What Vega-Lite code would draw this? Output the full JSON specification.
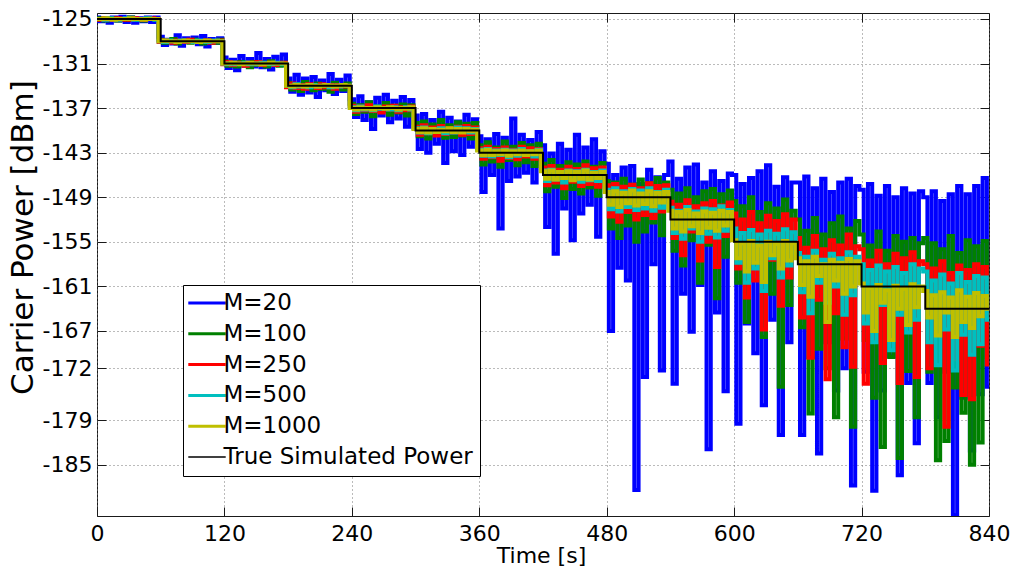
{
"$schema":"https://vega.github.io/schema/vega-lite/v6.json",
"width":892,"height":503,
"autosize":{"type":"none"},
"padding":{"left":97,"top":13,"right":25,"bottom":57},
"background":"white",
"config":{
 "font":"DejaVu Sans",
 "view":{"stroke":"#1a1a1a","strokeWidth":1},
 "axis":{"labelFont":"DejaVu Sans","titleFont":"DejaVu Sans","labelColor":"#000","titleColor":"#000","titleFontWeight":"normal","domain":false,"tickColor":"#1a1a1a","tickSize":-9,"tickWidth":1,"gridColor":"#777","gridDash":[1,3],"gridWidth":1,"gridOpacity":1}
},
"datasets":{
"main":[
{"t":0,"m20":-124.8,"m100":-125.1,"m250":-125.0,"m500":-125.0,"m1000":-125.0},
{"t":4,"m20":-125.3,"m100":-124.9,"m250":-125.1,"m500":-125.0,"m1000":-125.0},
{"t":8,"m20":-124.9,"m100":-125.2,"m250":-124.9,"m500":-125.1,"m1000":-124.9},
{"t":12,"m20":-125.5,"m100":-125.0,"m250":-125.1,"m500":-124.9,"m1000":-125.0},
{"t":16,"m20":-124.8,"m100":-124.9,"m250":-125.0,"m500":-125.0,"m1000":-125.1},
{"t":20,"m20":-125.2,"m100":-125.2,"m250":-124.9,"m500":-125.1,"m1000":-125.0},
{"t":24,"m20":-124.7,"m100":-125.0,"m250":-125.1,"m500":-125.0,"m1000":-125.0},
{"t":28,"m20":-125.4,"m100":-125.1,"m250":-125.0,"m500":-124.9,"m1000":-125.0},
{"t":32,"m20":-124.8,"m100":-124.8,"m250":-125.1,"m500":-125.0,"m1000":-124.9},
{"t":36,"m20":-125.5,"m100":-125.1,"m250":-124.9,"m500":-125.1,"m1000":-125.0},
{"t":40,"m20":-124.9,"m100":-125.0,"m250":-125.0,"m500":-125.0,"m1000":-125.0},
{"t":44,"m20":-125.3,"m100":-125.2,"m250":-125.1,"m500":-125.0,"m1000":-125.1},
{"t":48,"m20":-124.8,"m100":-124.9,"m250":-125.0,"m500":-124.9,"m1000":-125.0},
{"t":52,"m20":-125.4,"m100":-125.0,"m250":-124.9,"m500":-125.0,"m1000":-125.0},
{"t":56,"m20":-124.8,"m100":-125.1,"m250":-125.0,"m500":-125.1,"m1000":-125.0},
{"t":60,"m20":-127.4,"m100":-127.8,"m250":-128.1,"m500":-128.0,"m1000":-128.0},
{"t":64,"m20":-128.5,"m100":-128.2,"m250":-127.9,"m500":-128.1,"m1000":-127.9},
{"t":68,"m20":-127.8,"m100":-128.0,"m250":-128.0,"m500":-127.9,"m1000":-128.0},
{"t":72,"m20":-128.3,"m100":-127.7,"m250":-128.2,"m500":-128.0,"m1000":-128.0},
{"t":76,"m20":-127.2,"m100":-128.3,"m250":-127.9,"m500":-128.1,"m1000":-128.1},
{"t":80,"m20":-128.6,"m100":-128.0,"m250":-128.0,"m500":-127.9,"m1000":-128.0},
{"t":84,"m20":-127.6,"m100":-127.9,"m250":-128.1,"m500":-128.0,"m1000":-127.9},
{"t":88,"m20":-128.1,"m100":-128.2,"m250":-127.8,"m500":-128.0,"m1000":-128.0},
{"t":92,"m20":-127.5,"m100":-127.8,"m250":-128.0,"m500":-128.1,"m1000":-128.0},
{"t":96,"m20":-128.4,"m100":-128.1,"m250":-128.1,"m500":-127.9,"m1000":-128.1},
{"t":100,"m20":-127.3,"m100":-128.3,"m250":-128.0,"m500":-128.0,"m1000":-128.0},
{"t":104,"m20":-128.7,"m100":-127.9,"m250":-127.9,"m500":-128.1,"m1000":-127.9},
{"t":108,"m20":-127.7,"m100":-128.0,"m250":-128.2,"m500":-128.0,"m1000":-128.0},
{"t":112,"m20":-128.2,"m100":-128.2,"m250":-128.0,"m500":-127.9,"m1000":-128.0},
{"t":116,"m20":-127.6,"m100":-127.8,"m250":-127.9,"m500":-128.0,"m1000":-128.0},
{"t":120,"m20":-130.2,"m100":-130.7,"m250":-131.1,"m500":-131.0,"m1000":-131.0},
{"t":124,"m20":-131.6,"m100":-131.3,"m250":-130.8,"m500":-131.1,"m1000":-131.0},
{"t":128,"m20":-130.5,"m100":-130.9,"m250":-131.2,"m500":-130.9,"m1000":-130.9},
{"t":132,"m20":-131.9,"m100":-131.4,"m250":-130.9,"m500":-131.1,"m1000":-131.0},
{"t":136,"m20":-130.0,"m100":-130.8,"m250":-131.0,"m500":-131.0,"m1000":-131.1},
{"t":140,"m20":-131.3,"m100":-131.1,"m250":-131.3,"m500":-130.9,"m1000":-131.0},
{"t":144,"m20":-130.4,"m100":-131.5,"m250":-130.9,"m500":-131.1,"m1000":-130.9},
{"t":148,"m20":-131.4,"m100":-130.8,"m250":-131.1,"m500":-131.0,"m1000":-131.0},
{"t":152,"m20":-129.6,"m100":-131.2,"m250":-130.8,"m500":-131.1,"m1000":-131.0},
{"t":156,"m20":-131.5,"m100":-130.9,"m250":-131.2,"m500":-130.9,"m1000":-131.1},
{"t":160,"m20":-130.4,"m100":-131.4,"m250":-131.0,"m500":-131.0,"m1000":-131.0},
{"t":164,"m20":-131.8,"m100":-130.7,"m250":-130.9,"m500":-131.1,"m1000":-130.9},
{"t":168,"m20":-130.1,"m100":-131.1,"m250":-131.2,"m500":-130.9,"m1000":-131.0},
{"t":172,"m20":-131.2,"m100":-131.3,"m250":-131.0,"m500":-131.0,"m1000":-131.0},
{"t":176,"m20":-129.8,"m100":-130.9,"m250":-130.9,"m500":-131.1,"m1000":-131.0},
{"t":180,"m20":-133.0,"m100":-133.6,"m250":-134.2,"m500":-134.0,"m1000":-134.0},
{"t":184,"m20":-134.8,"m100":-134.5,"m250":-133.7,"m500":-134.2,"m1000":-134.1},
{"t":188,"m20":-132.5,"m100":-133.8,"m250":-134.3,"m500":-133.8,"m1000":-133.9},
{"t":192,"m20":-135.2,"m100":-134.7,"m250":-133.9,"m500":-134.1,"m1000":-134.0},
{"t":196,"m20":-133.0,"m100":-133.5,"m250":-134.4,"m500":-134.0,"m1000":-134.1},
{"t":200,"m20":-134.9,"m100":-134.3,"m250":-133.8,"m500":-134.2,"m1000":-133.9},
{"t":204,"m20":-132.8,"m100":-134.6,"m250":-134.1,"m500":-133.9,"m1000":-134.0},
{"t":208,"m20":-135.5,"m100":-133.7,"m250":-134.3,"m500":-134.1,"m1000":-134.1},
{"t":212,"m20":-133.3,"m100":-134.4,"m250":-133.8,"m500":-134.0,"m1000":-134.0},
{"t":216,"m20":-134.6,"m100":-133.9,"m250":-134.2,"m500":-133.9,"m1000":-133.9},
{"t":220,"m20":-132.4,"m100":-134.8,"m250":-133.9,"m500":-134.2,"m1000":-134.0},
{"t":224,"m20":-135.1,"m100":-133.6,"m250":-134.4,"m500":-134.0,"m1000":-134.1},
{"t":228,"m20":-133.2,"m100":-134.2,"m250":-133.9,"m500":-134.1,"m1000":-134.0},
{"t":232,"m20":-134.7,"m100":-134.5,"m250":-134.1,"m500":-133.9,"m1000":-133.9},
{"t":236,"m20":-132.6,"m100":-133.7,"m250":-134.0,"m500":-134.0,"m1000":-134.0},
{"t":240,"m20":-135.8,"m100":-136.4,"m250":-136.7,"m500":-136.9,"m1000":-137.0},
{"t":244,"m20":-138.2,"m100":-137.8,"m250":-137.5,"m500":-137.3,"m1000":-137.2},
{"t":248,"m20":-135.4,"m100":-136.6,"m250":-136.8,"m500":-136.8,"m1000":-136.9},
{"t":252,"m20":-138.6,"m100":-137.5,"m250":-137.3,"m500":-137.2,"m1000":-137.1},
{"t":256,"m20":-136.2,"m100":-136.2,"m250":-136.6,"m500":-137.0,"m1000":-137.0},
{"t":260,"m20":-139.8,"m100":-138.1,"m250":-137.4,"m500":-137.3,"m1000":-137.2},
{"t":264,"m20":-135.6,"m100":-136.8,"m250":-137.0,"m500":-136.8,"m1000":-136.9},
{"t":268,"m20":-138.0,"m100":-137.4,"m250":-137.6,"m500":-137.1,"m1000":-137.0},
{"t":272,"m20":-135.2,"m100":-136.3,"m250":-136.8,"m500":-137.0,"m1000":-137.1},
{"t":276,"m20":-138.9,"m100":-137.9,"m250":-137.2,"m500":-137.2,"m1000":-136.9},
{"t":280,"m20":-136.0,"m100":-136.7,"m250":-136.7,"m500":-136.9,"m1000":-137.0},
{"t":284,"m20":-138.4,"m100":-137.6,"m250":-137.5,"m500":-137.3,"m1000":-137.2},
{"t":288,"m20":-135.5,"m100":-136.5,"m250":-136.9,"m500":-137.0,"m1000":-137.0},
{"t":292,"m20":-139.5,"m100":-138.0,"m250":-137.3,"m500":-136.9,"m1000":-137.1},
{"t":296,"m20":-135.9,"m100":-136.6,"m250":-136.8,"m500":-137.2,"m1000":-136.9},
{"t":300,"m20":-138.0,"m100":-139.0,"m250":-139.5,"m500":-139.7,"m1000":-139.8},
{"t":304,"m20":-142.5,"m100":-140.8,"m250":-140.6,"m500":-140.3,"m1000":-140.2},
{"t":308,"m20":-137.8,"m100":-138.8,"m250":-139.3,"m500":-139.6,"m1000":-139.7},
{"t":312,"m20":-143.0,"m100":-141.1,"m250":-140.4,"m500":-140.4,"m1000":-140.3},
{"t":316,"m20":-138.6,"m100":-139.2,"m250":-139.6,"m500":-139.8,"m1000":-139.8},
{"t":320,"m20":-141.8,"m100":-140.6,"m250":-140.7,"m500":-140.2,"m1000":-140.2},
{"t":324,"m20":-137.5,"m100":-138.6,"m250":-139.4,"m500":-139.7,"m1000":-139.9},
{"t":328,"m20":-144.4,"m100":-141.0,"m250":-140.5,"m500":-140.4,"m1000":-140.1},
{"t":332,"m20":-138.3,"m100":-139.3,"m250":-139.7,"m500":-139.8,"m1000":-139.7},
{"t":336,"m20":-142.8,"m100":-140.9,"m250":-140.3,"m500":-140.3,"m1000":-140.2},
{"t":340,"m20":-138.8,"m100":-138.9,"m250":-139.5,"m500":-139.6,"m1000":-139.8},
{"t":344,"m20":-143.3,"m100":-140.7,"m250":-140.6,"m500":-140.2,"m1000":-140.3},
{"t":348,"m20":-137.9,"m100":-139.1,"m250":-139.4,"m500":-139.7,"m1000":-139.8},
{"t":352,"m20":-142.2,"m100":-141.1,"m250":-140.5,"m500":-140.3,"m1000":-140.1},
{"t":356,"m20":-138.5,"m100":-139.0,"m250":-139.6,"m500":-139.8,"m1000":-139.9},
{"t":360,"m20":-140.8,"m100":-142.0,"m250":-142.4,"m500":-142.6,"m1000":-142.7},
{"t":364,"m20":-148.3,"m100":-144.6,"m250":-143.8,"m500":-143.4,"m1000":-143.3},
{"t":368,"m20":-141.2,"m100":-141.6,"m250":-142.2,"m500":-142.5,"m1000":-142.6},
{"t":372,"m20":-146.0,"m100":-144.2,"m250":-143.6,"m500":-143.5,"m1000":-143.3},
{"t":376,"m20":-140.5,"m100":-142.3,"m250":-142.5,"m500":-142.7,"m1000":-142.8},
{"t":380,"m20":-153.2,"m100":-144.9,"m250":-144.1,"m500":-143.3,"m1000":-143.2},
{"t":384,"m20":-141.0,"m100":-141.5,"m250":-142.3,"m500":-142.6,"m1000":-142.7},
{"t":388,"m20":-146.8,"m100":-144.0,"m250":-143.7,"m500":-143.6,"m1000":-143.4},
{"t":392,"m20":-138.4,"m100":-142.2,"m250":-142.6,"m500":-142.7,"m1000":-142.8},
{"t":396,"m20":-146.2,"m100":-144.7,"m250":-143.9,"m500":-143.4,"m1000":-143.2},
{"t":400,"m20":-140.6,"m100":-141.7,"m250":-142.2,"m500":-142.5,"m1000":-142.7},
{"t":404,"m20":-145.7,"m100":-144.3,"m250":-143.5,"m500":-143.3,"m1000":-143.3},
{"t":408,"m20":-141.3,"m100":-142.0,"m250":-142.4,"m500":-142.8,"m1000":-142.8},
{"t":412,"m20":-147.0,"m100":-144.8,"m250":-143.8,"m500":-143.5,"m1000":-143.2},
{"t":416,"m20":-140.2,"m100":-141.8,"m250":-142.5,"m500":-142.6,"m1000":-142.7},
{"t":420,"m20":-142.0,"m100":-144.5,"m250":-145.0,"m500":-145.4,"m1000":-145.5},
{"t":424,"m20":-153.0,"m100":-148.2,"m250":-147.4,"m500":-146.8,"m1000":-146.5},
{"t":428,"m20":-143.1,"m100":-144.0,"m250":-144.8,"m500":-145.3,"m1000":-145.4},
{"t":432,"m20":-156.6,"m100":-147.6,"m250":-147.0,"m500":-146.6,"m1000":-146.6},
{"t":436,"m20":-141.8,"m100":-144.8,"m250":-145.3,"m500":-145.6,"m1000":-145.6},
{"t":440,"m20":-150.5,"m100":-149.1,"m250":-147.8,"m500":-147.0,"m1000":-146.4},
{"t":444,"m20":-142.6,"m100":-144.3,"m250":-144.9,"m500":-145.4,"m1000":-145.5},
{"t":448,"m20":-154.8,"m100":-147.9,"m250":-146.9,"m500":-146.5,"m1000":-146.7},
{"t":452,"m20":-140.6,"m100":-144.6,"m250":-145.2,"m500":-145.5,"m1000":-145.6},
{"t":456,"m20":-151.2,"m100":-148.5,"m250":-147.5,"m500":-146.9,"m1000":-146.5},
{"t":460,"m20":-142.3,"m100":-144.2,"m250":-144.7,"m500":-145.3,"m1000":-145.4},
{"t":464,"m20":-150.0,"m100":-147.7,"m250":-147.2,"m500":-146.7,"m1000":-146.6},
{"t":468,"m20":-141.2,"m100":-144.9,"m250":-145.1,"m500":-145.6,"m1000":-145.7},
{"t":472,"m20":-154.3,"m100":-148.8,"m250":-147.6,"m500":-146.8,"m1000":-146.4},
{"t":476,"m20":-142.8,"m100":-144.4,"m250":-145.0,"m500":-145.4,"m1000":-145.6},
{"t":480,"m20":-144.5,"m100":-146.8,"m250":-147.4,"m500":-148.0,"m1000":-148.3},
{"t":484,"m20":-167.0,"m100":-153.2,"m250":-151.6,"m500":-150.6,"m1000":-150.0},
{"t":488,"m20":-146.0,"m100":-147.0,"m250":-147.2,"m500":-147.8,"m1000":-148.2},
{"t":492,"m20":-158.5,"m100":-154.5,"m250":-152.3,"m500":-150.9,"m1000":-150.3},
{"t":496,"m20":-145.0,"m100":-146.5,"m250":-147.6,"m500":-148.2,"m1000":-148.4},
{"t":500,"m20":-160.2,"m100":-152.8,"m250":-151.0,"m500":-150.3,"m1000":-149.8},
{"t":504,"m20":-144.8,"m100":-147.3,"m250":-147.3,"m500":-147.9,"m1000":-148.1},
{"t":508,"m20":-188.4,"m100":-155.0,"m250":-152.0,"m500":-150.7,"m1000":-150.1},
{"t":512,"m20":-147.2,"m100":-146.6,"m250":-147.8,"m500":-148.1,"m1000":-148.5},
{"t":516,"m20":-173.2,"m100":-153.6,"m250":-151.4,"m500":-150.5,"m1000":-149.9},
{"t":520,"m20":-145.3,"m100":-147.1,"m250":-147.1,"m500":-147.8,"m1000":-148.2},
{"t":524,"m20":-158.0,"m100":-152.4,"m250":-151.8,"m500":-150.8,"m1000":-150.2},
{"t":528,"m20":-146.3,"m100":-146.4,"m250":-147.5,"m500":-148.3,"m1000":-148.4},
{"t":532,"m20":-172.3,"m100":-154.1,"m250":-150.9,"m500":-150.4,"m1000":-149.7},
{"t":536,"m20":-146.0,"m100":-147.0,"m250":-147.4,"m500":-148.0,"m1000":-148.3},
{"t":540,"m20":-144.2,"m100":-148.0,"m250":-149.6,"m500":-150.4,"m1000":-150.8},
{"t":544,"m20":-174.1,"m100":-156.2,"m250":-154.5,"m500":-153.8,"m1000":-153.2},
{"t":548,"m20":-146.5,"m100":-148.5,"m250":-150.0,"m500":-150.8,"m1000":-151.0},
{"t":552,"m20":-162.0,"m100":-158.2,"m250":-156.8,"m500":-154.6,"m1000":-153.6},
{"t":556,"m20":-145.0,"m100":-147.8,"m250":-149.4,"m500":-150.3,"m1000":-150.7},
{"t":560,"m20":-167.1,"m100":-154.8,"m250":-153.6,"m500":-153.2,"m1000":-152.9},
{"t":564,"m20":-144.6,"m100":-149.0,"m250":-150.2,"m500":-150.9,"m1000":-151.2},
{"t":568,"m20":-160.8,"m100":-160.5,"m250":-157.5,"m500":-155.0,"m1000":-153.8},
{"t":572,"m20":-147.0,"m100":-148.2,"m250":-149.8,"m500":-150.5,"m1000":-150.9},
{"t":576,"m20":-182.9,"m100":-155.4,"m250":-155.0,"m500":-153.9,"m1000":-153.1},
{"t":580,"m20":-145.5,"m100":-147.9,"m250":-149.5,"m500":-150.6,"m1000":-151.1},
{"t":584,"m20":-164.5,"m100":-162.6,"m250":-158.4,"m500":-154.4,"m1000":-153.5},
{"t":588,"m20":-146.8,"m100":-148.6,"m250":-150.1,"m500":-150.2,"m1000":-150.8},
{"t":592,"m20":-175.1,"m100":-157.0,"m250":-154.2,"m500":-153.5,"m1000":-152.8},
{"t":596,"m20":-145.8,"m100":-148.1,"m250":-149.7,"m500":-150.7,"m1000":-151.0},
{"t":600,"m20":-146.0,"m100":-149.5,"m250":-151.2,"m500":-153.2,"m1000":-154.8},
{"t":604,"m20":-179.5,"m100":-160.5,"m250":-158.6,"m500":-157.8,"m1000":-157.2},
{"t":608,"m20":-147.2,"m100":-150.2,"m250":-152.0,"m500":-153.8,"m1000":-155.2},
{"t":612,"m20":-166.0,"m100":-165.8,"m250":-162.5,"m500":-160.5,"m1000":-159.0},
{"t":616,"m20":-146.4,"m100":-149.0,"m250":-151.0,"m500":-153.4,"m1000":-154.9},
{"t":620,"m20":-170.0,"m100":-158.4,"m250":-160.2,"m500":-158.6,"m1000":-157.8},
{"t":624,"m20":-145.5,"m100":-151.0,"m250":-152.5,"m500":-154.0,"m1000":-155.5},
{"t":628,"m20":-177.0,"m100":-167.8,"m250":-166.8,"m500":-161.6,"m1000":-160.4},
{"t":632,"m20":-144.7,"m100":-149.8,"m250":-151.5,"m500":-153.5,"m1000":-155.0},
{"t":636,"m20":-165.5,"m100":-162.0,"m250":-157.4,"m500":-157.2,"m1000":-156.8},
{"t":640,"m20":-147.6,"m100":-150.5,"m250":-152.2,"m500":-153.9,"m1000":-155.3},
{"t":644,"m20":-181.0,"m100":-174.5,"m250":-163.6,"m500":-159.8,"m1000":-158.6},
{"t":648,"m20":-146.3,"m100":-149.3,"m250":-151.3,"m500":-153.3,"m1000":-154.9},
{"t":652,"m20":-168.5,"m100":-163.5,"m250":-159.8,"m500":-158.2,"m1000":-157.5},
{"t":656,"m20":-147.0,"m100":-150.8,"m250":-152.0,"m500":-153.7,"m1000":-155.2},
{"t":660,"m20":-147.0,"m100":-152.0,"m250":-154.5,"m500":-156.5,"m1000":-157.2},
{"t":664,"m20":-181.0,"m100":-166.5,"m250":-165.2,"m500":-161.8,"m1000":-160.8},
{"t":668,"m20":-146.2,"m100":-153.5,"m250":-155.8,"m500":-157.0,"m1000":-157.6},
{"t":672,"m20":-170.5,"m100":-178.1,"m250":-170.6,"m500":-164.6,"m1000":-162.4},
{"t":676,"m20":-147.8,"m100":-151.8,"m250":-154.2,"m500":-156.2,"m1000":-157.0},
{"t":680,"m20":-183.5,"m100":-169.4,"m250":-162.8,"m500":-160.5,"m1000":-159.6},
{"t":684,"m20":-146.5,"m100":-154.0,"m250":-156.0,"m500":-157.4,"m1000":-158.0},
{"t":688,"m20":-168.5,"m100":-172.0,"m250":-173.5,"m500":-163.2,"m1000":-165.8},
{"t":692,"m20":-148.3,"m100":-152.5,"m250":-154.8,"m500":-156.6,"m1000":-157.4},
{"t":696,"m20":-175.0,"m100":-178.6,"m250":-164.6,"m500":-161.0,"m1000":-160.2},
{"t":700,"m20":-147.0,"m100":-151.6,"m250":-155.5,"m500":-157.2,"m1000":-157.8},
{"t":704,"m20":-172.0,"m100":-168.0,"m250":-169.2,"m500":-164.8,"m1000":-162.0},
{"t":708,"m20":-146.5,"m100":-153.2,"m250":-154.0,"m500":-156.4,"m1000":-157.3},
{"t":712,"m20":-187.8,"m100":-179.9,"m250":-171.8,"m500":-162.2,"m1000":-161.0},
{"t":716,"m20":-147.5,"m100":-152.2,"m250":-155.6,"m500":-157.0,"m1000":-157.6},
{"t":720,"m20":-148.0,"m100":-154.0,"m250":-156.0,"m500":-158.0,"m1000":-160.6},
{"t":724,"m20":-172.5,"m100":-168.2,"m250":-174.1,"m500":-166.0,"m1000":-164.5},
{"t":728,"m20":-147.2,"m100":-155.5,"m250":-157.5,"m500":-158.8,"m1000":-161.2},
{"t":732,"m20":-188.5,"m100":-176.0,"m250":-168.4,"m500":-168.5,"m1000":-167.0},
{"t":736,"m20":-148.8,"m100":-153.6,"m250":-156.2,"m500":-158.2,"m1000":-160.8},
{"t":740,"m20":-175.0,"m100":-182.6,"m250":-171.3,"m500":-163.5,"m1000":-163.2},
{"t":744,"m20":-147.5,"m100":-156.2,"m250":-158.0,"m500":-159.0,"m1000":-161.5},
{"t":748,"m20":-170.4,"m100":-170.5,"m250":-165.5,"m500":-169.6,"m1000":-168.2},
{"t":752,"m20":-149.0,"m100":-154.2,"m250":-156.6,"m500":-158.4,"m1000":-160.9},
{"t":756,"m20":-186.4,"m100":-184.1,"m250":-174.0,"m500":-164.8,"m1000":-164.0},
{"t":760,"m20":-147.8,"m100":-155.0,"m250":-157.2,"m500":-159.2,"m1000":-161.3},
{"t":764,"m20":-174.0,"m100":-172.4,"m250":-163.8,"m500":-167.2,"m1000":-166.2},
{"t":768,"m20":-148.5,"m100":-154.5,"m250":-156.4,"m500":-158.0,"m1000":-160.7},
{"t":772,"m20":-182.1,"m100":-178.6,"m250":-173.2,"m500":-165.5,"m1000":-163.8},
{"t":776,"m20":-148.2,"m100":-155.2,"m250":-157.6,"m500":-158.6,"m1000":-161.0},
{"t":780,"m20":-149.0,"m100":-154.5,"m250":-158.0,"m500":-159.0,"m1000":-161.6},
{"t":784,"m20":-174.0,"m100":-172.5,"m250":-172.0,"m500":-168.5,"m1000":-165.2},
{"t":788,"m20":-148.2,"m100":-155.2,"m250":-158.6,"m500":-160.2,"m1000":-162.2},
{"t":792,"m20":-178.6,"m100":-184.4,"m250":-165.0,"m500":-171.6,"m1000":-167.6},
{"t":796,"m20":-149.5,"m100":-156.0,"m250":-157.6,"m500":-159.4,"m1000":-161.8},
{"t":800,"m20":-172.5,"m100":-181.8,"m250":-179.9,"m500":-166.8,"m1000":-164.5},
{"t":804,"m20":-148.6,"m100":-154.2,"m250":-159.2,"m500":-160.6,"m1000":-162.5},
{"t":808,"m20":-191.8,"m100":-174.6,"m250":-170.8,"m500":-172.3,"m1000":-167.8},
{"t":812,"m20":-147.5,"m100":-156.5,"m250":-158.2,"m500":-159.2,"m1000":-161.5},
{"t":816,"m20":-176.0,"m100":-178.0,"m250":-175.6,"m500":-167.5,"m1000":-165.8},
{"t":820,"m20":-148.6,"m100":-154.8,"m250":-158.8,"m500":-160.4,"m1000":-162.4},
{"t":824,"m20":-183.1,"m100":-185.0,"m250":-176.2,"m500":-170.2,"m1000":-166.6},
{"t":828,"m20":-147.5,"m100":-155.6,"m250":-158.0,"m500":-159.6,"m1000":-161.9},
{"t":832,"m20":-175.5,"m100":-182.0,"m250":-169.0,"m500":-168.8,"m1000":-165.0},
{"t":836,"m20":-146.4,"m100":-154.9,"m250":-158.4,"m500":-159.8,"m1000":-162.3},
{"t":840,"m20":-174.5,"m100":-170.5,"m250":-171.5,"m500":-165.5,"m1000":-164.0}
],
"truth":[
{"t":0,"p":-125},{"t":60,"p":-128},{"t":120,"p":-131},{"t":180,"p":-134},{"t":240,"p":-137},{"t":300,"p":-140},{"t":360,"p":-143},{"t":420,"p":-146},{"t":480,"p":-149},{"t":540,"p":-152},{"t":600,"p":-155},{"t":660,"p":-158},{"t":720,"p":-161},{"t":780,"p":-164},{"t":840,"p":-164}
]
},
"layer":[
{"data":{"name":"main"},"mark":{"type":"line","strokeWidth":4,"interpolate":"step","clip":true},
 "encoding":{
  "x":{"field":"t","type":"quantitative","scale":{"domain":[0,840],"nice":false,"zero":false},
   "axis":{"orient":"bottom","values":[0,120,240,360,480,600,720,840],"grid":true,"labelFontSize":22,"labelPadding":16.6,"labelFlush":false,"title":"Time [s]","titleFontSize":22,"titleX":444,"titleY":46.7,"titleAlign":"center","titleBaseline":"alphabetic"}},
  "y":{"field":"m20","type":"quantitative","scale":{"domain":[-191.9,-124.2],"nice":false,"zero":false},
   "axis":{"orient":"left","values":[-125,-131,-137,-143,-149,-155,-161,-167,-172,-179,-185],"labelExpr":"'' + datum.value","grid":true,"labelFontSize":22,"labelPadding":14,"title":"Carrier Power [dBm]","titleFontSize":31,"titleX":-64.5,"titleY":224,"titleAngle":270,"titleAlign":"center","titleBaseline":"alphabetic"}},
  "color":{"datum":"M=20","type":"nominal",
   "scale":{"domain":["M=20","M=100","M=250","M=500","M=1000","True Simulated Power"],"range":["#0000ff","#008000","#ff0000","#00bfbf","#bfbf00","#000000"]},
   "legend":{"orient":"none","legendX":86,"legendY":272,"title":null,"labelFont":"DejaVu Sans","labelFontSize":23,"labelColor":"#000","labelLimit":400,"symbolType":"stroke","symbolSize":1400,"symbolStrokeWidth":3,"symbolOffset":6,"padding":6.5,"rowPadding":6.8,"labelOffset":5,"strokeColor":"#000","fillColor":"#fff","cornerRadius":0,
     "encode":{"symbols":{"update":{"strokeWidth":{"signal":"datum.value === 'True Simulated Power' ? 1.3 : 3"}}}}}}
 }},
{"data":{"name":"main"},"mark":{"type":"line","strokeWidth":4,"interpolate":"step","clip":true},
 "encoding":{
  "x":{"field":"t","type":"quantitative","scale":{"domain":[0,840],"nice":false,"zero":false},"axis":null},
  "y":{"field":"m100","type":"quantitative","scale":{"domain":[-191.9,-124.2],"nice":false,"zero":false},"axis":null},
  "color":{"datum":"M=100","type":"nominal"}
 }},
{"data":{"name":"main"},"mark":{"type":"line","strokeWidth":4,"interpolate":"step","clip":true},
 "encoding":{
  "x":{"field":"t","type":"quantitative","scale":{"domain":[0,840],"nice":false,"zero":false},"axis":null},
  "y":{"field":"m250","type":"quantitative","scale":{"domain":[-191.9,-124.2],"nice":false,"zero":false},"axis":null},
  "color":{"datum":"M=250","type":"nominal"}
 }},
{"data":{"name":"main"},"mark":{"type":"line","strokeWidth":4,"interpolate":"step","clip":true},
 "encoding":{
  "x":{"field":"t","type":"quantitative","scale":{"domain":[0,840],"nice":false,"zero":false},"axis":null},
  "y":{"field":"m500","type":"quantitative","scale":{"domain":[-191.9,-124.2],"nice":false,"zero":false},"axis":null},
  "color":{"datum":"M=500","type":"nominal"}
 }},
{"data":{"name":"main"},"mark":{"type":"line","strokeWidth":4,"interpolate":"step","clip":true},
 "encoding":{
  "x":{"field":"t","type":"quantitative","scale":{"domain":[0,840],"nice":false,"zero":false},"axis":null},
  "y":{"field":"m1000","type":"quantitative","scale":{"domain":[-191.9,-124.2],"nice":false,"zero":false},"axis":null},
  "color":{"datum":"M=1000","type":"nominal"}
 }},
{"data":{"name":"truth"},"mark":{"type":"line","strokeWidth":2,"interpolate":"step-after","clip":true},
 "encoding":{
  "x":{"field":"t","type":"quantitative","scale":{"domain":[0,840],"nice":false,"zero":false},
   "axis":{"orient":"top","values":[0,120,240,360,480,600,720,840],"labels":false,"grid":false,"title":null}},
  "y":{"field":"p","type":"quantitative","scale":{"domain":[-191.9,-124.2],"nice":false,"zero":false},
   "axis":{"orient":"right","values":[-125,-131,-137,-143,-149,-155,-161,-167,-172,-179,-185],"labels":false,"grid":false,"title":null}},
  "color":{"datum":"True Simulated Power","type":"nominal"}
 }}
],
"resolve":{"axis":{"x":"independent","y":"independent"}}
}
